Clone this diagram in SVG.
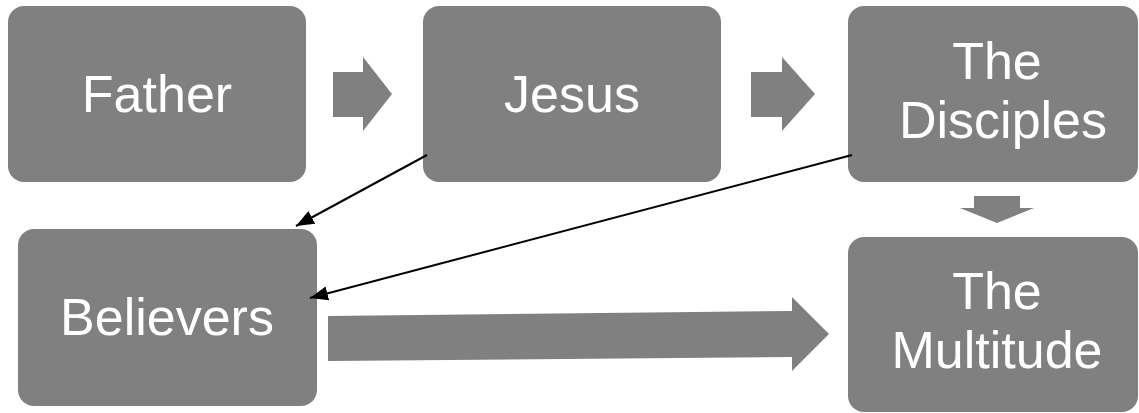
<svg xmlns="http://www.w3.org/2000/svg" width="1139" height="413" viewBox="0 0 1139 413">
<defs>
<style>
.box{fill:#808080;}
.lbl{fill:#ffffff;font-family:"Liberation Sans",Arial,sans-serif;font-size:52px;text-anchor:middle;font-variant-ligatures:none;}
.blk{fill:#808080;}
.con{stroke:#000;stroke-width:2;fill:none;marker-end:url(#ah);}
</style>
<marker id="ah" viewBox="0 0 10 8" refX="10" refY="4" markerWidth="9" markerHeight="7.2" markerUnits="strokeWidth" orient="auto">
<path d="M0,0 L10,4 L0,8 z" fill="#000"/>
</marker>
</defs>
<rect width="1139" height="413" fill="#fff"/>
<g id="father"><rect class="box" x="8" y="6" width="298" height="176" rx="16"/><text class="lbl" x="157" y="112">Father</text></g>
<g id="jesus"><rect class="box" x="423" y="6" width="298" height="176" rx="16"/><text class="lbl" x="572" y="112">Jesus</text></g>
<g id="disciples"><rect class="box" x="848" y="6" width="290" height="176" rx="16"/><text class="lbl" x="997" y="79">The</text><text class="lbl" x="1003" y="138">Disciples</text></g>
<g id="believers"><rect class="box" x="18" y="229" width="299" height="177" rx="16"/><text class="lbl" x="167" y="335">Believers</text></g>
<g id="multitude"><rect class="box" x="848" y="237" width="290" height="175" rx="16"/><text class="lbl" x="997" y="309">The</text><text class="lbl" x="997" y="368">Multitude</text></g>
<g id="connectors">
<polygon class="blk" points="333,72 363,72 363,57 392,94 363,131 363,117 333,117"/>
<polygon class="blk" points="751,72 782,72 782,57 815,94 782,131 782,117 751,117"/>
<polygon class="blk" points="974,196 1020,196 1020,208 1034,208 997,223 960,208 974,208"/>
<polygon class="blk" points="328,316 792,311 792,297 829,334 792,371 792,357 328,361"/>
<line class="con" x1="427" y1="155" x2="296" y2="226"/>
<line class="con" x1="852" y1="155" x2="310" y2="298"/>
</g>
</svg>
